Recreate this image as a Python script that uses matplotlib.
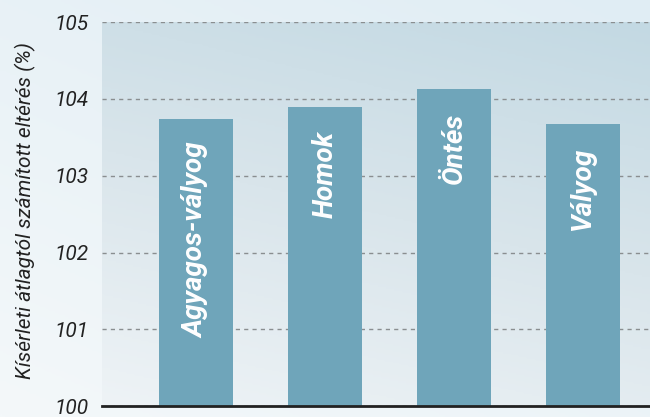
import numpy as np
import matplotlib as mpl
import matplotlib.pyplot as plt
from matplotlib.colors import LinearSegmentedColormap

mpl.use('Agg')

kategoriak = ["Agyagos-vályog", "Homok", "Öntés", "Vályog"]
ertekek = [103.74, 103.89, 104.13, 103.67]
yticks = [100, 101, 102, 103, 104, 105]

plt.rcParams['font.family'] = ['Roboto', 'DejaVu Sans']

fig = plt.figure(figsize=(6.5, 4.17), dpi=100)

# background gradient of the whole figure
bg = fig.add_axes([0, 0, 1, 1], zorder=-10)
bg.axis('off')
gx, gy = np.meshgrid(np.linspace(0, 1, 200), np.linspace(0, 1, 200))
cm_bg = LinearSegmentedColormap.from_list("bg", ["#f4f8fa", "#e0edf4"])
bg.imshow(0.6 * gy + 0.4 * gx, cmap=cm_bg, origin='lower', aspect='auto',
          extent=[0, 1, 0, 1])

ax = fig.add_axes([0.157, 0.026, 0.843, 0.921])
ax.set_facecolor('none')

x = np.arange(len(kategoriak))
ax.set_xlim(-0.73, 3.52)
ax.set_ylim(100, 105)

# plot area gradient
cm_pa = LinearSegmentedColormap.from_list("pa", ["#eef3f6", "#d9e5eb", "#c3d9e3"])
ax.imshow(0.75 * gy + 0.25 * gx, cmap=cm_pa, origin='lower', aspect='auto',
          extent=[-0.73, 3.52, 100, 105], zorder=0)

ax.set_yticks(yticks)
ax.yaxis.grid(True, linestyle=(0, (3, 3)), color='#8a8e90', linewidth=1)
ax.set_axisbelow(True)
for g in ax.get_ygridlines():
    g.set_zorder(1)

ax.bar(x, [v - 100 for v in ertekek], bottom=100, width=0.575,
       color='#6fa5ba', zorder=2)

for xi, v, nev in zip(x, ertekek, kategoriak):
    ax.annotate(nev, (xi, v), xytext=(0, -17), textcoords='offset points',
                rotation=90, ha='center', va='top', color='white',
                fontsize=20, fontweight='bold', fontstyle='italic', zorder=3)

ax.set_xticks([])
for s in ['top', 'right', 'left']:
    ax.spines[s].set_visible(False)
ax.spines['bottom'].set_linewidth(2)
ax.spines['bottom'].set_color('#222222')
ax.spines['bottom'].set_zorder(4)

ax.tick_params(axis='y', length=0, pad=10, labelsize=15)
for t in ax.get_yticklabels():
    t.set_fontstyle('italic')
    t.set_color('#222222')

ax.set_ylabel("Kísérleti átlagtól számított eltérés (%)", fontsize=15,
              fontstyle='italic', color='#222222', va='center')
ax.yaxis.set_label_coords(-0.14, 0.51)

plt.savefig("out.png", dpi=100)
